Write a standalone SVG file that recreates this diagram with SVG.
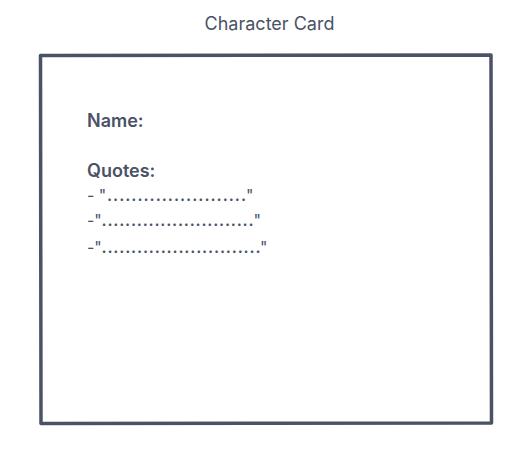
<svg xmlns="http://www.w3.org/2000/svg" width="527" height="450" viewBox="0 0 527 450">
<style>
.t{font-family:Inter,"Noto Sans","Liberation Sans",sans-serif;fill:#4a5266}
.h{font-size:18px;font-weight:600}
.q{font-size:16px}
.d{font-weight:600}
</style>
<rect width="527" height="450" fill="#fff"/>
<g id="title"><text class="t" x="269.5" y="30" font-size="18" text-anchor="middle">Character Card</text></g>
<g id="card">
<path d="M40.5,55.5 L491,55 L491.5,423 L41,423.5 Z" fill="none" stroke="#4a5266" stroke-width="3.5" stroke-linejoin="round"/>
<text class="t h" x="87" y="127">Name:</text>
<text class="t h" x="87" y="177">Quotes:</text>
<text class="t q" x="87" y="201">- "<tspan class="d" x="107" textLength="139" lengthAdjust="spacing">.......................</tspan><tspan x="246">"</tspan></text>
<text class="t q" x="87" y="226">-"<tspan class="d" x="101.5" textLength="152" lengthAdjust="spacing">..........................</tspan><tspan x="253.5">"</tspan></text>
<text class="t q" x="87" y="253">-"<tspan class="d" x="101.5" textLength="159" lengthAdjust="spacing">...........................</tspan><tspan x="260">"</tspan></text>
</g>
</svg>
